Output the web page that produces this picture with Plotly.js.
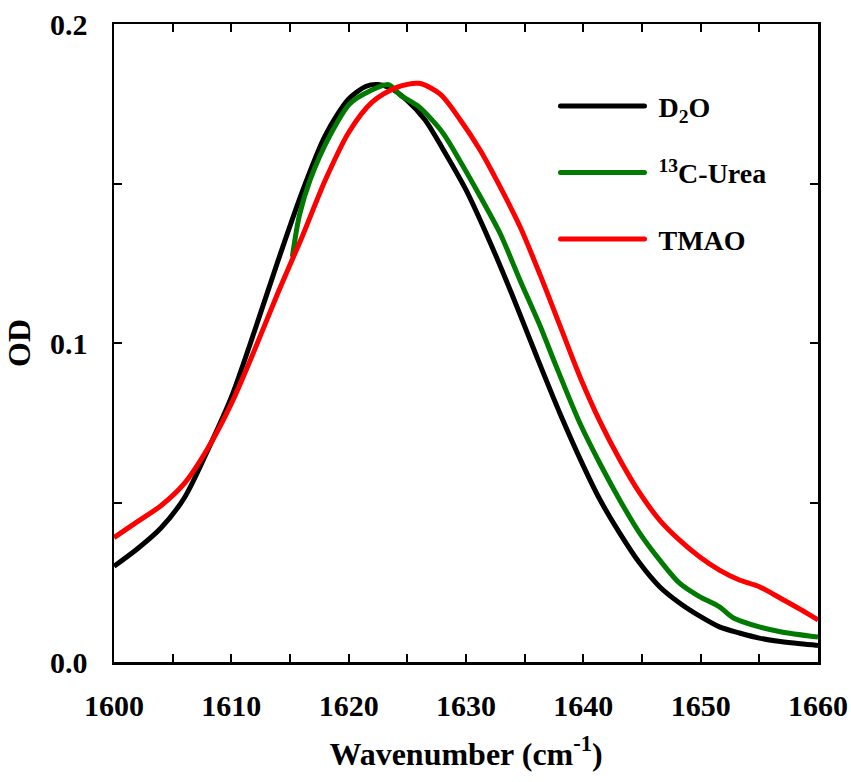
<!DOCTYPE html>
<html>
<head>
<meta charset="utf-8">
<script src="https://cdn.plot.ly/plotly-3.0.1.min.js"></script>
<style>html,body{margin:0;padding:0;background:#fff;}#chart{width:851px;height:782px;}</style>
</head>
<body>
<div id="chart"></div>
<script>
// D2O
const d2oX = [1600, 1602, 1604, 1606, 1608, 1610, 1612, 1614, 1616, 1618, 1620, 1621.5, 1622.5, 1623.5, 1625, 1626.5, 1628, 1630, 1632, 1634, 1636, 1638, 1640, 1641.4, 1643.1, 1644.8, 1646.5, 1648.2, 1650, 1651.6, 1653.3, 1655, 1656.8, 1658.5, 1660];
const d2oY = [0.030, 0.0355, 0.0420, 0.0515, 0.0665, 0.083, 0.104, 0.126, 0.147, 0.165, 0.1765, 0.1805, 0.181, 0.180, 0.176, 0.170, 0.161, 0.148, 0.132, 0.1145, 0.096, 0.078, 0.0615, 0.051, 0.0404, 0.031, 0.0236, 0.0185, 0.0142, 0.011, 0.0091, 0.0075, 0.0064, 0.0057, 0.0052];
// 13C-Urea
const ureaX = [1615.2, 1615.8, 1616.7, 1618.4, 1620.1, 1621.8, 1623.4, 1624.4, 1626, 1628, 1629.5, 1631.2, 1632.9, 1634.6, 1636.3, 1637.6, 1639.7, 1641.4, 1643.1, 1644.8, 1646.5, 1648.2, 1649.9, 1651.6, 1652.8, 1655, 1656.8, 1660];
const ureaY = [0.127, 0.140, 0.151, 0.165, 0.175, 0.179, 0.181, 0.1777, 0.174, 0.166, 0.157, 0.146, 0.1344, 0.1197, 0.1055, 0.0935, 0.0749, 0.0623, 0.0508, 0.0404, 0.032, 0.0247, 0.0205, 0.0173, 0.0138, 0.011, 0.0095, 0.0078];
// TMAO
const tmaoX = [1600, 1602, 1604, 1606, 1608, 1610, 1612, 1614, 1616, 1618, 1620, 1622, 1624, 1626, 1627.8, 1629.5, 1631.2, 1632.9, 1634.6, 1636.3, 1638, 1639.7, 1641.4, 1643.1, 1644.8, 1646.5, 1648.2, 1649.9, 1651.6, 1653.3, 1655, 1656.8, 1658.5, 1660];
const tmaoY = [0.039, 0.044, 0.049, 0.056, 0.067, 0.081, 0.098, 0.116, 0.133, 0.151, 0.166, 0.1755, 0.180, 0.1814, 0.178, 0.170, 0.1605, 0.149, 0.1365, 0.1215, 0.1055, 0.0895, 0.0755, 0.0635, 0.053, 0.0445, 0.0382, 0.033, 0.0288, 0.0257, 0.0236, 0.020, 0.0165, 0.0132];

const seriesNames = ['D<sub>2</sub>O', '<sup>13</sup>C-Urea', 'TMAO'];
const seriesColors = ['#000000', '#007a00', '#ff0000'];
const xTicks = [1600, 1610, 1620, 1630, 1640, 1650, 1660];
const yTicks = [0.0, 0.1, 0.2];

const FONT = '"Liberation Serif", "Times New Roman", serif';
const xs = [d2oX, ureaX, tmaoX];
const ys = [d2oY, ureaY, tmaoY];

const traces = xs.map((x, i) => ({
  x: x, y: ys[i], type: 'scatter', mode: 'lines',
  name: seriesNames[i], legendgroup: 'g' + i,
  line: {color: seriesColors[i], width: 5, shape: 'spline', smoothing: 0.8}
}));

const axisCommon = {
  showline: true, linewidth: 2.5, linecolor: '#000', mirror: 'ticks',
  ticks: 'inside', ticklen: 8, tickwidth: 2, tickcolor: '#000',
  showgrid: false, zeroline: false,
  tickfont: {family: FONT, size: 30, color: '#000', weight: 'bold'}
};

const layout = {
  width: 851, height: 782,
  margin: {l: 114, r: 33, t: 24, b: 120},
  paper_bgcolor: '#fff', plot_bgcolor: '#fff',
  showlegend: true,
  legend: {
    x: 0.674, y: 0.91, xanchor: 'left', yanchor: 'top',
    font: {family: FONT, size: 28, color: '#000', weight: 'bold'},
    bgcolor: 'rgba(0,0,0,0)', traceorder: 'grouped', tracegroupgap: 27,
    itemwidth: 60
  },
  xaxis: Object.assign({}, axisCommon, {
    range: [1600, 1660], tickvals: xTicks, ticktext: xTicks.map(String),
    minor: {dtick: 5, tick0: 1600, ticks: 'inside', ticklen: 8, tickwidth: 2, tickcolor: '#000'},
    ticklabelstandoff: 15,
    title: {text: 'Wavenumber (cm<sup>-1</sup>)', font: {family: FONT, size: 32, color: '#000', weight: 'bold'}, standoff: 22}
  }),
  yaxis: Object.assign({}, axisCommon, {
    range: [0, 0.2], tickvals: yTicks, ticktext: yTicks.map(v => v.toFixed(1)),
    minor: {dtick: 0.05, tick0: 0, ticks: 'inside', ticklen: 8, tickwidth: 2, tickcolor: '#000'},
    ticklabelstandoff: 18,
    title: {text: 'OD', font: {family: FONT, size: 32, color: '#000', weight: 'bold'}, standoff: 10}
  })
};

Plotly.newPlot('chart', traces, layout, {displayModeBar: false, staticPlot: true}).then(() => {
  // let legend samples extend beyond the legend box
  document.querySelectorAll('#chart .legend [clip-path]').forEach(e => e.removeAttribute('clip-path'));
  // lengthen legend line samples (84px, ending 14px before the label) to match the reference
  document.querySelectorAll('#chart .legend .traces').forEach(g => {
    const p = g.querySelector('.legendlines path');
    const t = g.querySelector('.legendtext');
    if (!p || !t) return;
    const m = /M\s*([-\d.]+)[ ,]([-\d.]+)\s*h\s*([-\d.]+)/.exec(p.getAttribute('d') || '');
    if (!m) return;
    const x0 = parseFloat(m[1]);
    const pr = p.getBoundingClientRect();
    const offset = pr.left - x0;
    const textLeft = t.getBoundingClientRect().left;
    const endLocal = textLeft - 14 - offset;
    p.setAttribute('d', 'M' + (endLocal - 84) + ',' + m[2] + 'h84');
    p.style.strokeLinecap = 'round';
  });
});
</script>
</body>
</html>
